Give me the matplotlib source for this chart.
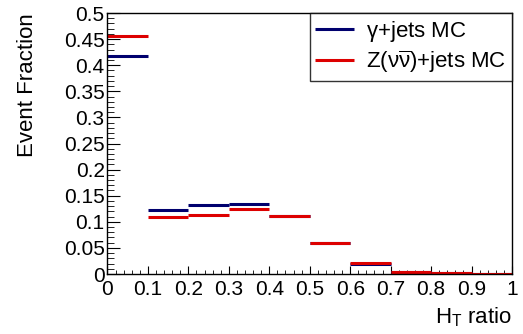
import matplotlib
matplotlib.use("Agg")
import matplotlib.pyplot as plt
from matplotlib.ticker import MultipleLocator, FixedLocator
import numpy as np

plt.rcParams['font.family'] = ['Liberation Sans', 'DejaVu Sans']
plt.rcParams['mathtext.fontset'] = 'custom'
plt.rcParams['mathtext.rm'] = 'Liberation Sans'
plt.rcParams['mathtext.it'] = 'Liberation Sans'
plt.rcParams['mathtext.bf'] = 'Liberation Sans:bold'

bin_edges = [0.0, 0.1, 0.2, 0.3, 0.4, 0.5, 0.6, 0.7, 0.8, 0.9, 1.0]
gamma_jets = [0.4176, 0.1226, 0.1315, 0.1335, 0.111, 0.060, 0.019, 0.004, 0.001, 0.0]
z_jets = [0.4565, 0.109, 0.113, 0.1245, 0.1117, 0.060, 0.021, 0.004, 0.001, 0.0]
x_ticks = [0, 0.1, 0.2, 0.3, 0.4, 0.5, 0.6, 0.7, 0.8, 0.9, 1]
x_ticklabels = ["0", "0.1", "0.2", "0.3", "0.4", "0.5", "0.6", "0.7", "0.8", "0.9", "1"]
y_ticks = [0, 0.05, 0.1, 0.15, 0.2, 0.25, 0.3, 0.35, 0.4, 0.45, 0.5]
y_ticklabels = ["0", "0.05", "0.1", "0.15", "0.2", "0.25", "0.3", "0.35", "0.4", "0.45", "0.5"]

navy = '#00006e'
red = '#dd0000'

fig = plt.figure(figsize=(5.23, 3.34), dpi=100)
ax = fig.add_axes([0.2055, 0.1796, 0.979 - 0.2055, 0.961 - 0.1796])

lo = np.array(bin_edges[:-1])
hi = np.array(bin_edges[1:])
ax.hlines(gamma_jets, lo, hi, colors=navy, linewidth=2.2, label=r'$\gamma$+jets MC')
ax.hlines(z_jets, lo, hi, colors=red, linewidth=2.2, label=r'Z($\nu\overline{\nu}$)+jets MC')

ax.set_xlim(0, 1)
ax.set_ylim(0, 0.5)
ax.xaxis.set_major_locator(FixedLocator(x_ticks))
ax.set_xticklabels(x_ticklabels)
ax.yaxis.set_major_locator(FixedLocator(y_ticks))
ax.set_yticklabels(y_ticklabels)
ax.xaxis.set_minor_locator(MultipleLocator(0.02))
ax.yaxis.set_minor_locator(MultipleLocator(0.01))
ax.tick_params(axis='both', which='both', direction='in', top=False, right=False)
ax.tick_params(axis='x', which='major', length=6, labelsize=15, pad=4)
ax.tick_params(axis='x', which='minor', length=3)
ax.tick_params(axis='y', which='major', length=9.5, labelsize=15, pad=2)
ax.tick_params(axis='y', which='minor', length=5)
for s in ax.spines.values():
    s.set_linewidth(1.0)

ax.set_ylabel('Event Fraction', fontsize=16, loc='top')
ax.yaxis.set_label_coords(-0.172, 1.0)
ax.set_xlabel(r'H$_\mathrm{T}$ ratio', fontsize=16, loc='right')
ax.xaxis.set_label_coords(1.0, -0.12)

leg = ax.legend(loc='upper right', bbox_to_anchor=(1.0, 1.0), borderaxespad=0,
                fontsize=16, frameon=True, fancybox=False, handlelength=1.75,
                handletextpad=0.55, labelspacing=0.22, borderpad=0.25)
leg.get_frame().set_edgecolor('black')
leg.get_frame().set_linewidth(1.0)

fig.savefig('out.png', dpi=100)
